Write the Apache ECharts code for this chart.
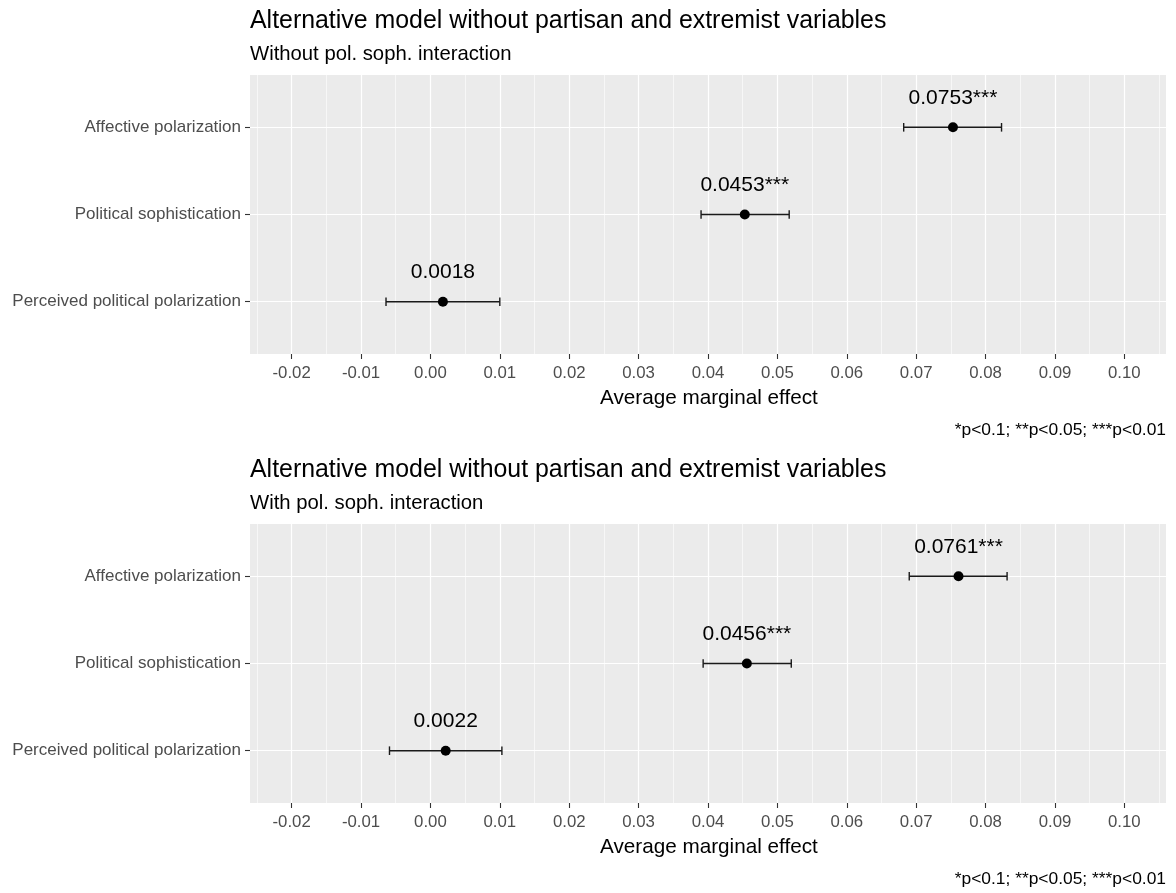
<!DOCTYPE html>
<html>
<head>
<meta charset="utf-8">
<script src="https://cdn.jsdelivr.net/npm/echarts@6/dist/echarts.min.js"></script>
<style>
  html, body { margin: 0; padding: 0; background: #fff; }
  #chart { width: 1176px; height: 893px; }
</style>
</head>
<body>
<div id="chart"></div>
<script>
// categories, bottom to top (ggplot order)
const categories = ['Perceived political polarization', 'Political sophistication', 'Affective polarization']

// panel 1: without pol. soph. interaction
const estWithout = [0.0018, 0.0453, 0.0753]
const lowWithout = [-0.0064, 0.0390, 0.0682]
const highWithout = [0.0100, 0.0517, 0.0823]
const starsWithout = ['', '***', '***']

// panel 2: with pol. soph. interaction
const estWith = [0.0022, 0.0456, 0.0761]
const lowWith = [-0.0059, 0.0393, 0.0690]
const highWith = [0.0103, 0.0520, 0.0831]
const starsWith = ['', '***', '***']

const xTicks = [-0.02, -0.01, 0, 0.01, 0.02, 0.03, 0.04, 0.05, 0.06, 0.07, 0.08, 0.09, 0.10]
const xMinor = [-0.025, -0.015, -0.005, 0.005, 0.015, 0.025, 0.035, 0.045, 0.055, 0.065, 0.075, 0.085, 0.095, 0.105]
const yTicks = [1, 2, 3]

const panelTitle = 'Alternative model without partisan and extremist variables'
const subtitles = ['Without pol. soph. interaction', 'With pol. soph. interaction']
const xTitle = 'Average marginal effect'
const caption = '*p<0.1; **p<0.05; ***p<0.01'

const FONT = '"Liberation Sans", Arial, sans-serif'
const panelTops = [75, 524]
const plotH = 279

const chart = echarts.init(document.getElementById('chart'))

const grids = panelTops.map(t => ({
  left: 250, top: t, width: 916, height: plotH,
  show: true, backgroundColor: '#EBEBEB', borderWidth: 0
}))

const xAxes = []
const yAxes = []
panelTops.forEach((t, i) => {
  xAxes.push({
    type: 'value', gridIndex: i, min: -0.026, max: 0.106,
    axisLine: { show: false, onZero: false },
    axisTick: { show: true, customValues: xTicks, length: 5, lineStyle: { color: '#333333', width: 1.1 } },
    axisLabel: {
      customValues: xTicks, margin: 11, color: '#4D4D4D', fontSize: 16.8, fontFamily: FONT,
      formatter: v => v.toFixed(2)
    },
    splitLine: { show: true, lineStyle: { color: '#FFFFFF', width: 1.2 } }
  })
  // minor grid lines
  xAxes.push({
    type: 'value', gridIndex: i, min: -0.026, max: 0.106,
    axisLine: { show: false, onZero: false },
    axisTick: { show: false, customValues: xMinor },
    axisLabel: { show: false, customValues: xMinor },
    splitLine: { show: true, lineStyle: { color: '#FFFFFF', width: 0.6 } }
  })
  yAxes.push({
    type: 'value', gridIndex: i, min: 0.4, max: 3.6,
    axisLine: { show: false, onZero: false },
    axisTick: { show: true, customValues: yTicks, length: 5, lineStyle: { color: '#333333', width: 1.1 } },
    axisLabel: {
      customValues: yTicks, margin: 9, color: '#4D4D4D', fontSize: 17, fontFamily: FONT,
      formatter: v => categories[Math.round(v) - 1]
    },
    splitLine: { show: true, lineStyle: { color: '#FFFFFF', width: 1.2 } }
  })
})

const makeSeries = (idx, est, low, high, stars) => ({
  type: 'custom',
  xAxisIndex: idx * 2,
  yAxisIndex: idx,
  clip: false,
  data: est.map((e, k) => [e, low[k], high[k], k + 1]),
  encode: { x: [0, 1, 2], y: 3 },
  renderItem: (params, api) => {
    const y = api.value(3)
    const p = api.coord([api.value(0), y])
    const l = api.coord([api.value(1), y])
    const h = api.coord([api.value(2), y])
    const stroke = { stroke: '#1a1a1a', lineWidth: 1.4 }
    const k = params.dataIndex
    return {
      type: 'group',
      children: [
        { type: 'line', shape: { x1: l[0], y1: l[1], x2: h[0], y2: h[1] }, style: stroke },
        { type: 'line', shape: { x1: l[0], y1: l[1] - 4.3, x2: l[0], y2: l[1] + 4.3 }, style: stroke },
        { type: 'line', shape: { x1: h[0], y1: h[1] - 4.3, x2: h[0], y2: h[1] + 4.3 }, style: stroke },
        { type: 'circle', shape: { cx: p[0], cy: p[1], r: 5 }, style: { fill: '#000000' } },
        {
          type: 'text', x: p[0], y: p[1] - 29,
          style: {
            text: est[k].toFixed(4) + stars[k], align: 'center', verticalAlign: 'middle',
            fontSize: 21, fontFamily: FONT, fill: '#000000'
          }
        }
      ]
    }
  }
})

const graphics = []
panelTops.forEach((t, i) => {
  const off = t - panelTops[0]
  graphics.push({ type: 'text', left: 250, top: 9 + off,
    style: { text: panelTitle, fontSize: 24.9, fontFamily: FONT, fill: '#000000' } })
  graphics.push({ type: 'text', left: 250, top: 44 + off,
    style: { text: subtitles[i], fontSize: 20.3, fontFamily: FONT, fill: '#000000' } })
  graphics.push({ type: 'text', left: 600, top: 388 + off,
    style: { text: xTitle, fontSize: 20.7, fontFamily: FONT, fill: '#000000' } })
  graphics.push({ type: 'text', right: 10, top: 422 + off,
    style: { text: caption, fontSize: 17.4, fontFamily: FONT, fill: '#000000' } })
})

chart.setOption({
  animation: false,
  backgroundColor: '#FFFFFF',
  grid: grids,
  xAxis: xAxes,
  yAxis: yAxes,
  graphic: graphics,
  series: [
    makeSeries(0, estWithout, lowWithout, highWithout, starsWithout),
    makeSeries(1, estWith, lowWith, highWith, starsWith)
  ]
})
</script>
</body>
</html>
